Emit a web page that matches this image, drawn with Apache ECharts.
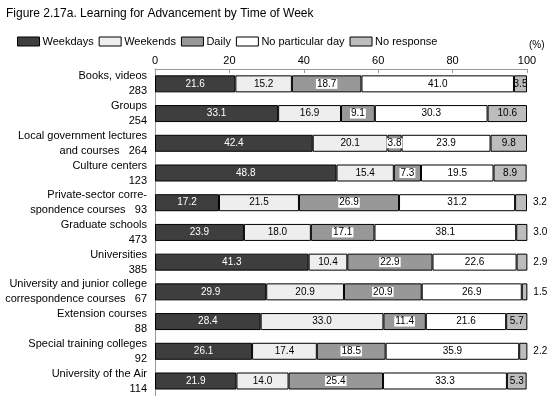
<!DOCTYPE html>
<html>
<head>
<meta charset="utf-8">
<script src="https://cdn.jsdelivr.net/npm/echarts@6/dist/echarts.min.js"></script>
<style>
  html, body { margin: 0; padding: 0; background: #fff; }
  #chart { width: 559px; height: 396px; }
</style>
</head>
<body>
<div id="chart"></div>
<script>
// categories (name + sample size)
var categories = [
  'Books, videos\n283',
  'Groups\n254',
  'Local government lectures\nand courses   264',
  'Culture centers\n123',
  'Private-sector corre-\nspondence courses   93',
  'Graduate schools\n473',
  'Universities\n385',
  'University and junior college\ncorrespondence courses   67',
  'Extension courses\n88',
  'Special training colleges\n92',
  'University of the Air\n114'
];
var seriesNames = ['Weekdays', 'Weekends', 'Daily', 'No particular day', 'No response'];
var weekdays   = [21.6, 33.1, 42.4, 48.8, 17.2, 23.9, 41.3, 29.9, 28.4, 26.1, 21.9];
var weekends   = [15.2, 16.9, 20.1, 15.4, 21.5, 18.0, 10.4, 20.9, 33.0, 17.4, 14.0];
var daily      = [18.7, 9.1, 3.8, 7.3, 26.9, 17.1, 22.9, 20.9, 11.4, 18.5, 25.4];
var noParticular = [41.0, 30.3, 23.9, 19.5, 31.2, 38.1, 22.6, 26.9, 21.6, 35.9, 33.3];
var noResponse = [3.5, 10.6, 9.8, 8.9, 3.2, 3.0, 2.9, 1.5, 5.7, 2.2, 5.3];
var xTicks = [0, 20, 40, 60, 80, 100];

var colors = ['#3e3e3e', '#eeeeee', '#989898', '#ffffff', '#bdbdbd'];
var fontFamily = '"Liberation Sans", Arial, sans-serif';

function fmt(p) { return p.value.toFixed(1); }

function makeSeries(idx, data, labelOpt) {
  return {
    name: seriesNames[idx],
    type: 'bar',
    stack: 'total',
    barWidth: 17,
    data: data,
    itemStyle: { color: colors[idx], borderColor: '#000', borderWidth: 1 },
    label: Object.assign({
      show: true,
      position: 'inside',
      formatter: fmt,
      fontSize: 10,
      fontFamily: fontFamily,
      color: '#000'
    }, labelOpt || {})
  };
}

// no response: small values drawn outside the bar
var noRespData = noResponse.map(function (v) {
  if (v < 3.5) {
    return { value: v, label: { position: 'right', distance: 6 } };
  }
  return v;
});

var chart = echarts.init(document.getElementById('chart'));
chart.setOption({
  animation: false,
  textStyle: { fontFamily: fontFamily },
  title: {
    text: 'Figure 2.17a. Learning for Advancement by Time of Week',
    left: 1,
    top: 3,
    textStyle: { fontSize: 12, fontWeight: 'normal', color: '#000', fontFamily: fontFamily }
  },
  legend: {
    data: seriesNames,
    icon: 'rect',
    left: 12,
    top: 31,
    itemWidth: 22,
    itemHeight: 9,
    itemGap: 5,
    textStyle: { fontSize: 11, color: '#000', padding: [0, 0, 0, -2] },
    itemStyle: { borderColor: '#000', borderWidth: 1 }
  },
  graphic: [{
    type: 'text',
    left: 529,
    top: 40,
    style: { text: '(%)', fontSize: 10, fill: '#000', fontFamily: fontFamily }
  }],
  grid: { left: 155, right: 32, top: 69, bottom: 0, containLabel: false },
  xAxis: {
    type: 'value',
    position: 'top',
    min: 0,
    max: 100,
    interval: 20,
    axisLine: { show: true, lineStyle: { color: '#999' } },
    axisTick: { show: true, inside: true, length: 4, lineStyle: { color: '#999' } },
    axisLabel: {
      fontSize: 11, color: '#000', margin: 3,
      formatter: function (v) { return xTicks.indexOf(v) >= 0 ? String(v) : ''; }
    },
    splitLine: { show: false }
  },
  yAxis: {
    type: 'category',
    inverse: true,
    data: categories,
    axisLine: { show: true, lineStyle: { color: '#999' } },
    axisTick: { show: false },
    axisLabel: {
      fontSize: 11, color: '#000', margin: 8, lineHeight: 15, align: 'right',
      interval: 0, showMinLabel: true, showMaxLabel: true, hideOverlap: false
    }
  },
  series: [
    makeSeries(0, weekdays, { color: '#fff' }),
    makeSeries(1, weekends),
    makeSeries(2, daily, { backgroundColor: '#fff', padding: [0, 1] }),
    makeSeries(3, noParticular),
    makeSeries(4, noRespData)
  ]
});
</script>
</body>
</html>
